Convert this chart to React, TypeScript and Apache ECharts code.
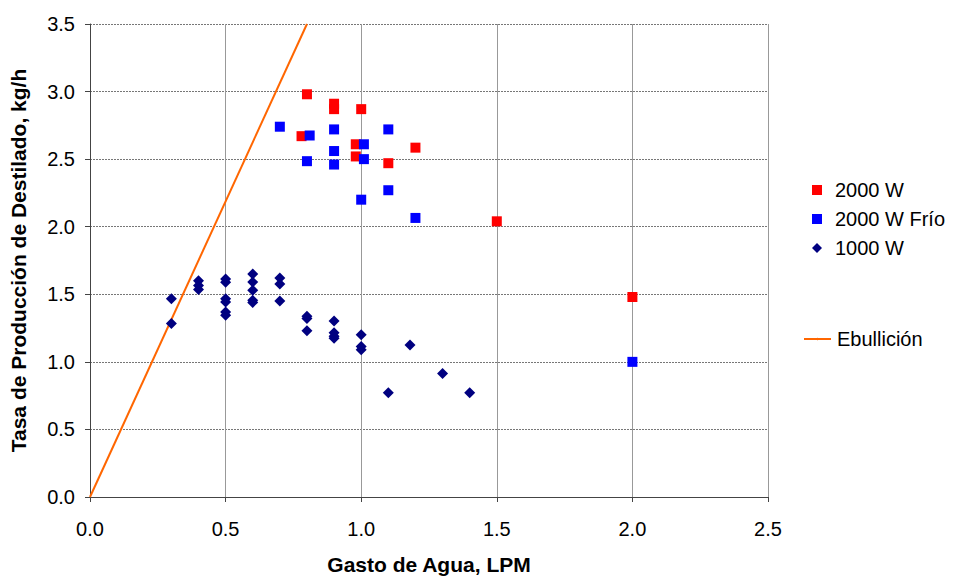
import React, { useEffect, useRef } from "react";
import * as echarts from "echarts";

const xTicks = ["0.0", "0.5", "1.0", "1.5", "2.0", "2.5"];
const yTicks = ["0.0", "0.5", "1.0", "1.5", "2.0", "2.5", "3.0", "3.5"];

const red2000: [number, number][] = [
  [0.8, 2.98], [0.78, 2.67], [0.9, 2.91], [0.9, 2.87], [1.0, 2.87],
  [0.98, 2.61], [0.98, 2.52], [1.1, 2.47], [1.2, 2.585], [1.5, 2.04], [2.0, 1.48],
];

const blueFrio: [number, number][] = [
  [0.7, 2.74], [0.81, 2.675], [0.9, 2.72], [1.1, 2.72], [1.01, 2.61],
  [0.9, 2.56], [0.8, 2.485], [0.9, 2.46], [1.01, 2.5], [1.1, 2.27],
  [1.0, 2.2], [1.2, 2.065], [2.0, 1.0],
];

const navy1000: [number, number][] = [
  [0.3, 1.467], [0.3, 1.284],
  [0.4, 1.6], [0.4, 1.565], [0.4, 1.535],
  [0.5, 1.613], [0.5, 1.589], [0.5, 1.467], [0.5, 1.442], [0.5, 1.369], [0.5, 1.345],
  [0.6, 1.65], [0.6, 1.59], [0.6, 1.53], [0.6, 1.455], [0.6, 1.44],
  [0.7, 1.62], [0.7, 1.576], [0.7, 1.45],
  [0.8, 1.338], [0.8, 1.32], [0.8, 1.23],
  [0.9, 1.303], [0.9, 1.215], [0.9, 1.19], [0.9, 1.174],
  [1.0, 1.2], [1.0, 1.113], [1.0, 1.089],
  [1.18, 1.125], [1.3, 0.913], [1.1, 0.771], [1.4, 0.771],
];

const ebullicion: [number, number][] = [[0, 0], [0.8, 3.5]];

const FONT = "Liberation Sans, Arial, sans-serif";

export default function App() {
  const ref = useRef<HTMLDivElement>(null);
  useEffect(() => {
    if (!ref.current) return;
    const chart = echarts.init(ref.current, undefined, { renderer: "svg" });
    chart.setOption({
      animation: false,
      backgroundColor: "#fff",
      textStyle: { fontFamily: FONT },
      grid: { left: 88, right: 188, top: 24, bottom: 78, containLabel: false },
      xAxis: {
        type: "value",
        min: 0,
        max: 2.5,
        interval: 0.5,
        name: "Gasto de Agua, LPM",
        nameLocation: "middle",
        nameGap: 57,
        nameTextStyle: { fontSize: 21, fontWeight: "bold", color: "#000", fontFamily: FONT },
        axisLine: { show: true, onZero: false, lineStyle: { color: "#444", width: 1 } },
        axisTick: { show: true, inside: false, length: 5, lineStyle: { color: "#444" } },
        axisLabel: {
          fontSize: 20, color: "#000", margin: 22, fontFamily: FONT,
          formatter: (v: number) => xTicks[Math.round(v / 0.5)] ?? "",
        },
        splitLine: { show: true, lineStyle: { color: "#999", width: 1, type: "solid" } },
      },
      yAxis: {
        type: "value",
        min: 0,
        max: 3.5,
        interval: 0.5,
        name: "Tasa de Producción de Destilado, kg/h",
        nameLocation: "middle",
        nameGap: 61,
        nameTextStyle: { fontSize: 21, fontWeight: "bold", color: "#000", fontFamily: FONT },
        axisLine: { show: true, onZero: false, lineStyle: { color: "#444", width: 1 } },
        axisTick: { show: true, inside: false, length: 5, lineStyle: { color: "#444" } },
        axisLabel: {
          fontSize: 20, color: "#000", margin: 15, fontFamily: FONT,
          formatter: (v: number) => yTicks[Math.round(v / 0.5)] ?? "",
        },
        splitLine: { show: true, lineStyle: { color: "#777", width: 1, type: [2, 1] } },
      },
      legend: [
        {
          data: ["2000 W", "2000 W Frío", "1000 W"],
          orient: "vertical",
          left: 807,
          top: 175,
          itemWidth: 10,
          itemHeight: 10,
          itemGap: 9,
          textStyle: { fontSize: 20, color: "#000", fontFamily: FONT, padding: [0, 0, 0, 8] },
        },
        {
          data: ["Ebullición"],
          orient: "vertical",
          left: 798,
          top: 324,
          itemWidth: 27,
          itemHeight: 3,
          textStyle: { fontSize: 20, color: "#000", fontFamily: FONT, padding: [0, 0, 0, 1] },
        },
      ],
      series: [
        {
          name: "Ebullición",
          type: "line",
          data: ebullicion,
          symbol: "none",
          lineStyle: { color: "#FF6600", width: 2 },
          itemStyle: { color: "#FF6600" },
          z: 1,
        },
        {
          name: "1000 W",
          type: "scatter",
          data: navy1000,
          symbol: "diamond",
          symbolSize: 11,
          itemStyle: { color: "#000080", opacity: 1 },
          z: 3,
        },
        {
          name: "2000 W",
          type: "scatter",
          data: red2000,
          symbol: "rect",
          symbolSize: 10,
          itemStyle: { color: "#FF0000", opacity: 1 },
          z: 3,
        },
        {
          name: "2000 W Frío",
          type: "scatter",
          data: blueFrio,
          symbol: "rect",
          symbolSize: 10,
          itemStyle: { color: "#0000FF", opacity: 1 },
          z: 4,
        },
      ],
    });
    return () => chart.dispose();
  }, []);
  return <div ref={ref} style={{ width: 956, height: 580, position: "absolute", left: 0, top: 0 }} />;
}
